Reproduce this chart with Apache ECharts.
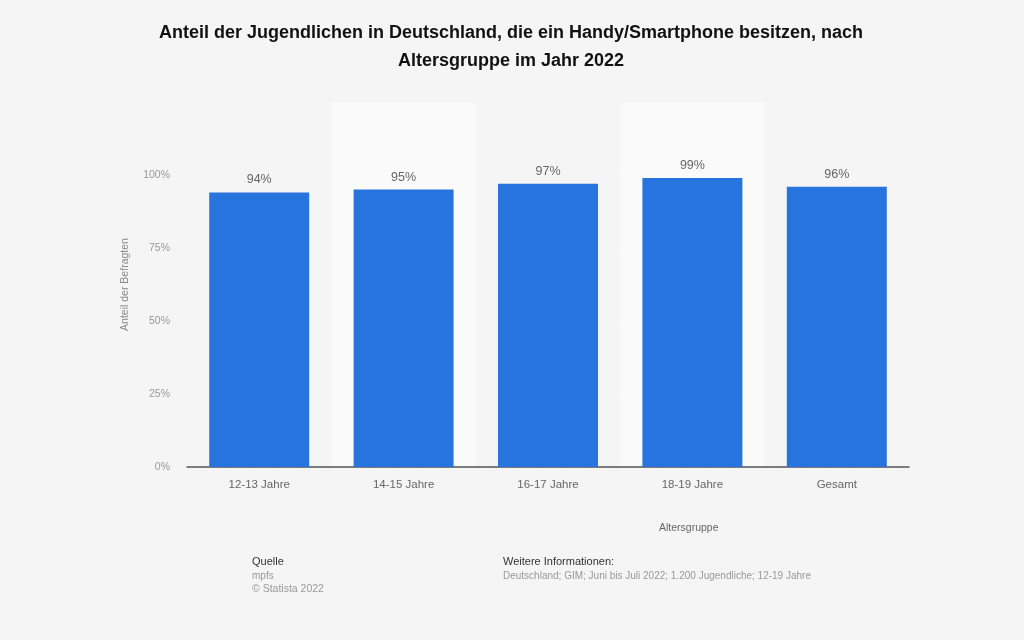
<!DOCTYPE html>
<html>
<head>
<meta charset="utf-8">
<style>
  html, body { margin: 0; padding: 0; background: #f5f5f5; }
  #chart { width: 1024px; height: 640px; }
</style>
<script src="https://cdn.jsdelivr.net/npm/echarts@6/dist/echarts.min.js"></script>
</head>
<body>
<div id="chart"></div>
<script>
const categories = ['12-13 Jahre', '14-15 Jahre', '16-17 Jahre', '18-19 Jahre', 'Gesamt']
const shares = [94, 95, 97, 99, 96]

const font = '"Liberation Sans", Arial, sans-serif'
const chart = echarts.init(document.getElementById('chart'))

// title and source blocks are plain text placed by hand
function textBlock(text, left, top, size, color, weight) {
  return {
    text,
    left,
    top,
    padding: 0,
    textStyle: { fontFamily: font, fontSize: size, color, fontWeight: weight || 'normal', lineHeight: size + 2 }
  }
}

chart.setOption({
  backgroundColor: '#f5f5f5',
  animation: false,
  title: [
    {
      text: 'Anteil der Jugendlichen in Deutschland, die ein Handy/Smartphone besitzen, nach\nAltersgruppe im Jahr 2022',
      left: 511,
      top: 19,
      textAlign: 'center',
      padding: 0,
      textStyle: { fontFamily: font, fontSize: 18, fontWeight: 'bold', color: '#111', lineHeight: 28 }
    },
    textBlock('Altersgruppe', 659, 522, 10.5, '#666'),
    textBlock('Quelle', 252, 555, 11, '#333'),
    textBlock('mpfs', 252, 570, 10, '#999'),
    textBlock('© Statista 2022', 252, 583, 10.5, '#999'),
    textBlock('Weitere Informationen:', 503, 555, 11, '#333'),
    textBlock('Deutschland; GIM; Juni bis Juli 2022; 1.200 Jugendliche; 12-19 Jahre', 503, 570, 10, '#999')
  ],
  grid: { left: 187, right: 115, top: 102, bottom: 173 },
  xAxis: {
    type: 'category',
    data: categories,
    axisTick: { show: false },
    axisLine: { lineStyle: { color: '#555', width: 1.5 } },
    axisLabel: { color: '#666', fontFamily: font, fontSize: 11.5, margin: 12 },
    splitArea: { show: true, areaStyle: { color: ['#f5f5f5', '#fafafa'] } }
  },
  yAxis: {
    type: 'value',
    min: 0,
    max: 125,
    interval: 25,
    name: 'Anteil der Befragten',
    nameLocation: 'middle',
    nameGap: 56,
    nameTextStyle: { color: '#888', fontFamily: font, fontSize: 10.5 },
    axisLine: { show: false },
    axisTick: { show: false },
    axisLabel: {
      color: '#999',
      fontFamily: font,
      fontSize: 10.5,
      margin: 17,
      formatter: v => (v > 100 ? '' : v + '%')
    },
    splitLine: { lineStyle: { color: '#e0e0e0', type: 'dashed', dashOffset: 0, width: 1 } }
  },
  series: [{
    type: 'bar',
    data: shares,
    barWidth: 100,
    itemStyle: { color: '#2874de' },
    label: {
      show: true,
      position: 'top',
      distance: 6,
      formatter: '{c}%',
      color: '#666',
      fontFamily: font,
      fontSize: 12.5
    }
  }]
})
</script>
</body>
</html>
